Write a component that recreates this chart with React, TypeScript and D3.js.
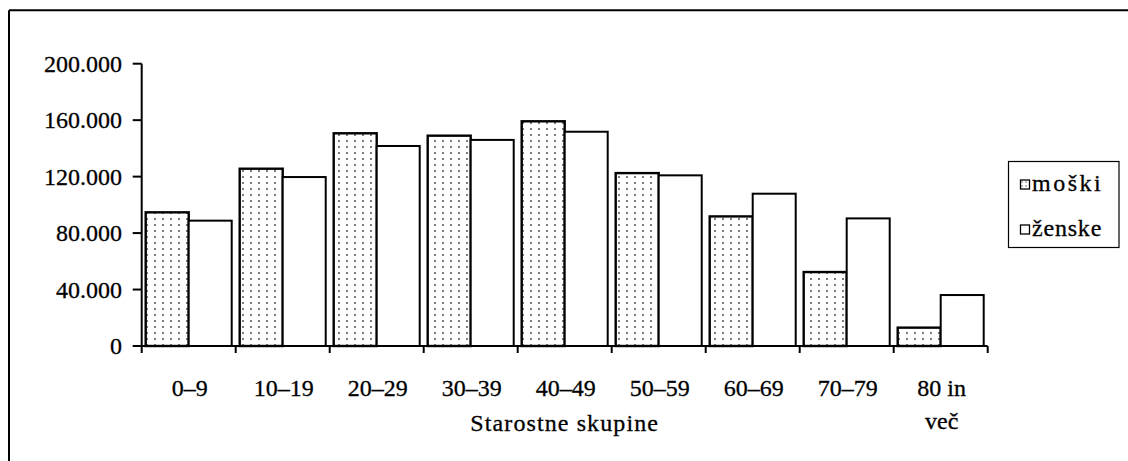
import React from "react";
import * as d3 from "d3";

const categories: string[] = ["0–9", "10–19", "20–29", "30–39", "40–49", "50–59", "60–69", "70–79", "80 in\nveč"];
const moski: number[] = [94700, 125600, 150700, 149000, 159200, 122500, 91800, 52400, 13000];
const zenske: number[] = [88800, 119700, 141700, 146000, 151800, 120900, 107900, 90400, 36100];
const seriesNames: string[] = ["moški", "ženske"];
const yTicks: number[] = [0, 40000, 80000, 120000, 160000, 200000];
const axisTitle = "Starostne skupine";

const W = 1128;
const H = 461;
const FONT = "'Liberation Serif', 'Times New Roman', serif";

const locale = d3.formatLocale({ decimal: ",", thousands: ".", grouping: [3], currency: ["", ""] });
const fmt = locale.format(",");

const textStyle = { fill: "#000", stroke: "#000", strokeWidth: 0.3 };

export default function App() {
  const x0 = d3.scaleBand<string>().domain(categories).range([141.7, 987.7]).paddingInner(0.085).paddingOuter(0.0425);
  const x1 = d3.scaleBand<string>().domain(seriesNames).range([0, x0.bandwidth()]);
  const y = d3.scaleLinear().domain([0, 200000]).range([346, 63.7]);
  const step = x0.step();
  const [r0, r1] = x0.range();
  const boundaries = d3.range(categories.length + 1).map((i) => r0 + i * step);
  const values = [moski, zenske];

  return (
    <svg width={W} height={H} style={{ position: "absolute", left: 0, top: 0, background: "#fff" }} fontFamily={FONT}>
      <defs>
        <pattern id="dots" width={8} height={6} patternUnits="userSpaceOnUse">
          <rect width={8} height={6} fill="#fff" />
          <circle cx={3} cy={3} r={0.95} fill="#444" />
        </pattern>
        <pattern id="dotsLegend" width={4} height={4} patternUnits="userSpaceOnUse">
          <rect width={4} height={4} fill="#fff" />
          <circle cx={2} cy={2} r={0.7} fill="#444" />
        </pattern>
      </defs>
      <rect x={0} y={0} width={W} height={H} fill="#fff" />
      {/* frame */}
      <line x1={9} y1={10.3} x2={W} y2={10.3} stroke="#000" strokeWidth={2} />
      <line x1={9} y1={10.3} x2={9} y2={H} stroke="#000" strokeWidth={2} />

      {/* bars */}
      {categories.map((c, i) =>
        seriesNames.map((s, j) => {
          const bx = (x0(c) ?? 0) + (x1(s) ?? 0);
          const v = values[j][i];
          return (
            <rect
              key={c + s}
              x={bx}
              y={y(v)}
              width={x1.bandwidth()}
              height={y(0) - y(v)}
              fill={j === 0 ? "url(#dots)" : "#fff"}
              stroke="#000"
              strokeWidth={j === 0 ? 2.4 : 2}
            />
          );
        })
      )}

      {/* y axis */}
      <line x1={r0} y1={y(200000)} x2={r0} y2={y(0)} stroke="#000" strokeWidth={2} />
      {yTicks.map((t) => (
        <g key={t}>
          <line x1={r0 - 9} x2={r0} y1={y(t)} y2={y(t)} stroke="#000" strokeWidth={2} />
          <text x={122} y={y(t)} dy="0.34em" textAnchor="end" fontSize={24} style={textStyle}>
            {fmt(t)}
          </text>
        </g>
      ))}

      {/* x axis */}
      <line x1={r0} y1={y(0)} x2={r1} y2={y(0)} stroke="#000" strokeWidth={2} />
      {boundaries.map((b, i) => (
        <line key={i} x1={b} x2={b} y1={y(0)} y2={y(0) + 7} stroke="#000" strokeWidth={2} />
      ))}
      {categories.map((c) => {
        const cx = (x0(c) ?? 0) + x0.bandwidth() / 2 + 1;
        const lines = c.split("\n");
        return (
          <text key={c} x={cx} y={396} textAnchor="middle" fontSize={24} style={textStyle}>
            {lines.map((l, k) => (
              <tspan key={k} x={cx} dy={k === 0 ? 0 : 33}>
                {l}
              </tspan>
            ))}
          </text>
        );
      })}
      <text x={(r0 + r1) / 2} y={431} textAnchor="middle" fontSize={24} letterSpacing={1.1} style={textStyle}>
        {axisTitle}
      </text>

      {/* legend */}
      <rect x={1008.5} y={161.5} width={110.5} height={86} fill="#fff" stroke="#000" strokeWidth={1.2} />
      {seriesNames.map((s, j) => {
        const cy = 184.5 + j * 45;
        return (
          <g key={s}>
            <rect x={1020.5} y={cy - 4.5} width={9} height={9} fill={j === 0 ? "url(#dotsLegend)" : "#fff"} stroke="#000" strokeWidth={1.3} />
            <text x={1032} y={cy + 6} fontSize={24} letterSpacing={j === 0 ? 2.5 : 0.8} style={textStyle}>
              {s}
            </text>
          </g>
        );
      })}
    </svg>
  );
}
